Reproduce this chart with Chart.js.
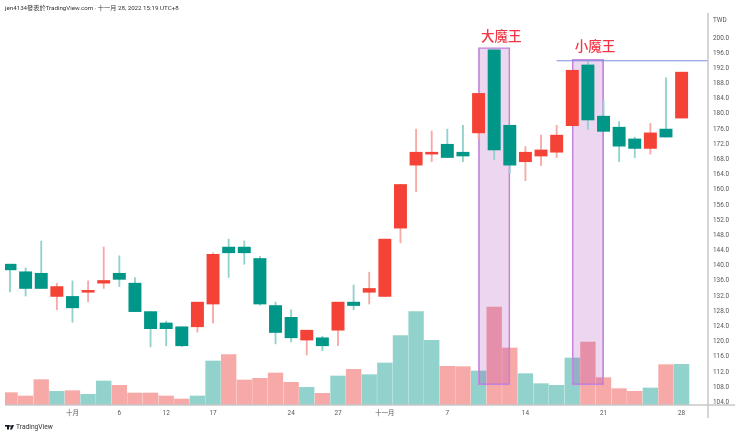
<!DOCTYPE html>
<html>
<head>
<meta charset="utf-8">
<style>
  body { margin: 0; background: #fff; }
</style>
<script src="https://cdn.jsdelivr.net/npm/chart.js@4"></script>
</head>
<body>
<canvas id="createChart" width="740" height="436"></canvas>
<script>
// price data, one entry per trading day
var opens  = [140.4,138.4,138.0,131.9,131.9,133.0,135.4,138.0,135.4,127.9,124.9,123.9,123.9,129.9,144.9,144.9,141.9,129.5,126.4,120.4,121.0,123.0,130.4,133.0,131.9,149.9,166.5,169.4,172.0,169.9,175.0,196.9,177.0,167.4,168.9,169.9,176.9,192.9,179.4,176.5,173.4,170.9,176.0,178.9];
var closes = [138.9,134.0,134.0,134.5,128.9,133.5,136.1,136.4,127.9,123.4,123.4,118.9,130.4,143.0,143.4,143.4,129.9,122.4,121.0,123.0,118.9,130.4,129.5,134.0,147.0,161.4,169.9,169.9,168.5,168.9,185.4,170.5,166.5,169.9,170.5,174.4,191.5,178.4,175.4,171.5,170.9,175.0,173.9,191.0];
var highs  = [140.4,139.4,146.5,135.4,136.0,136.0,144.9,142.6,136.9,127.9,125.4,123.9,130.4,143.4,147.0,146.5,142.5,130.4,128.4,123.0,121.4,130.4,134.9,138.3,147.0,161.4,176.0,175.5,176.0,177.0,185.4,196.9,177.0,171.4,174.4,177.0,191.5,194.2,183.7,178.0,173.9,177.5,189.5,191.0];
var lows   = [133.1,132.0,134.0,128.4,125.1,130.5,134.0,134.5,127.9,118.6,118.9,118.7,122.5,124.9,136.9,140.4,129.6,119.4,119.9,116.5,117.6,118.9,128.4,129.9,131.9,146.0,159.5,167.4,168.5,167.4,173.4,167.9,164.3,162.4,166.4,168.5,176.9,175.9,175.4,167.4,168.5,169.4,173.9,178.9];
var volumes  = [37,27,76,41,43,32,72,59,36,36,27,18,27,132,151,75,80,96,68,53,35,87,107,91,126,208,280,194,116,115,102,294,171,94,64,59,141,189,82,49,41,51,121,122];
var volumeUp = [1,1,1,0,1,0,0,1,1,1,1,1,0,0,1,1,1,1,1,0,1,0,1,0,0,0,0,0,1,1,0,1,1,0,0,0,0,1,1,1,1,0,1,0];

var priceTicks = [200,196,192,188,184,180,176,172,168,164,160,156,152,148,144,140,136,132,128,124,120,116,112,108,104];
var timeTickIndex = [4,7,10,13,18,21,24,28,33,38,43];
var timeTickLabels = ["十月","6","12","17","24","27","十一月","7","14","21","28"];

// the two drawn boxes and the resistance line
var boxCentres = [31,37];
var boxTops = [197.5,194.4];
var boxBottoms = [108.6,108.6];
var boxLabels = ["大魔王","小魔王"];
var lineStart = 35;
var lineLevel = 194.0;

var RED = "#f44336", GREEN = "#009688";
var FONT = 'Roboto, "Noto Sans CJK TC", sans-serif';

function isUp(i) { return closes[i] >= opens[i]; }

var days = opens.map(function(v, i) { return i; });

var drawingsPlugin = {
    id: "drawings",
    afterDraw: function(chart) {
        var ctx = chart.ctx;
        var area = chart.chartArea;
        var x = chart.scales.x;
        ctx.save();

        // axis frame runs a bit past the plot area
        ctx.strokeStyle = "#c8c8c8";
        ctx.lineWidth = 1.5;
        ctx.beginPath();
        ctx.moveTo(area.right, area.top);
        ctx.lineTo(area.right, 418);
        ctx.moveTo(area.left, area.bottom);
        ctx.lineTo(735, area.bottom);
        ctx.stroke();

        ctx.fillStyle = "#f23645";
        ctx.font = '500 13.5px "Noto Sans CJK TC"';
        ctx.textAlign = "center";
        ctx.textBaseline = "middle";
        ctx.fillText(boxLabels[0], x.getPixelForValue(boxCentres[0]) + 7, 36);
        ctx.fillText(boxLabels[1], x.getPixelForValue(boxCentres[1]) + 7, 46);

        ctx.textAlign = "left";
        ctx.fillStyle = "#555";
        ctx.font = "6.4px " + FONT;
        ctx.fillText("TWD", 713, 20);

        ctx.fillStyle = "#333";
        ctx.font = "6.2px " + FONT;
        ctx.fillText("jen4134發表於TradingView.com · 十一月 28, 2022 15:19 UTC+8", 5, 8);

        ctx.font = "6.7px " + FONT;
        ctx.fillStyle = "#333";
        ctx.fillText("TradingView", 16, 427.5);

        // little logo
        ctx.fillStyle = "#131722";
        ctx.fillRect(5, 425, 4, 1.6);
        ctx.fillRect(7, 425, 2, 4.5);
        ctx.beginPath();
        ctx.arc(10, 426, 0.9, 0, Math.PI * 2);
        ctx.fill();
        ctx.beginPath();
        ctx.moveTo(11.6, 425);
        ctx.lineTo(14, 425);
        ctx.lineTo(12, 429.5);
        ctx.lineTo(10, 429.5);
        ctx.fill();
        ctx.restore();
    }
};

var ctx = document.getElementById("createChart").getContext("2d");
var myChart = new Chart(ctx, {
    type: "bar",
    data: {
        datasets: [
            {
                type: "line",
                data: [{ x: lineStart, y: lineLevel }, { x: 44.69, y: lineLevel }],
                borderColor: "#7c8be0",
                borderWidth: 1,
                pointRadius: 0,
                order: 0
            },
            {
                label: "body",
                data: days.map(function(i) { return { x: i, y: [opens[i], closes[i]] }; }),
                backgroundColor: days.map(function(i) { return isUp(i) ? RED : GREEN; }),
                barThickness: 12.3,
                order: 1
            },
            {
                label: "wick",
                data: days.map(function(i) { return { x: i, y: [lows[i], highs[i]] }; }),
                backgroundColor: days.map(function(i) { return isUp(i) ? "#f7a9a7" : "#92d2cc"; }),
                barThickness: 1.2,
                order: 2
            },
            {
                label: "boxes",
                data: boxCentres.map(function(c, i) { return { x: c, y: [boxBottoms[i], boxTops[i]] }; }),
                backgroundColor: "rgba(156,39,176,0.19)",
                borderColor: "#c78be0",
                borderWidth: 1,
                borderSkipped: false,
                barThickness: 31.6,
                order: 3
            },
            {
                label: "volume",
                yAxisID: "y1",
                data: days.map(function(i) { return { x: i, y: volumes[i] }; }),
                backgroundColor: days.map(function(i) { return volumeUp[i] ? "#f7a9a7" : "#92d2cc"; }),
                barThickness: 14.7,
                order: 4
            }
        ]
    },
    options: {
        responsive: false,
        animation: false,
        layout: { padding: { left: 5, top: 13 } },
        datasets: { bar: { grouped: false } },
        plugins: { legend: { display: false }, tooltip: { enabled: false }, title: { display: false } },
        scales: {
            x: {
                type: "linear",
                offset: false,
                min: -0.32,
                max: 44.69,
                grid: { display: false, drawTicks: false, offset: false },
                border: { display: false },
                afterBuildTicks: function(scale) {
                    scale.ticks = timeTickIndex.map(function(v) { return { value: v }; });
                },
                afterFit: function(scale) { scale.height = 31; },
                ticks: {
                    autoSkip: false,
                    maxRotation: 0,
                    padding: 5,
                    color: "#555",
                    font: { family: FONT, size: 6.4 },
                    callback: function(value) { return timeTickLabels[timeTickIndex.indexOf(value)]; }
                }
            },
            y: {
                position: "right",
                min: 103.29,
                max: 206.59,
                grid: { display: false, drawTicks: false },
                border: { display: false },
                afterBuildTicks: function(scale) {
                    scale.ticks = priceTicks.map(function(v) { return { value: v }; });
                },
                afterFit: function(scale) { scale.width = 32; },
                ticks: {
                    autoSkip: false,
                    padding: 5,
                    color: "#555",
                    font: { family: FONT, size: 6.4 },
                    callback: function(value) { return value.toFixed(1); }
                }
            },
            y1: { display: false, min: 0, max: 1176 }
        }
    },
    plugins: [drawingsPlugin]
});
</script>
</body>
</html>
